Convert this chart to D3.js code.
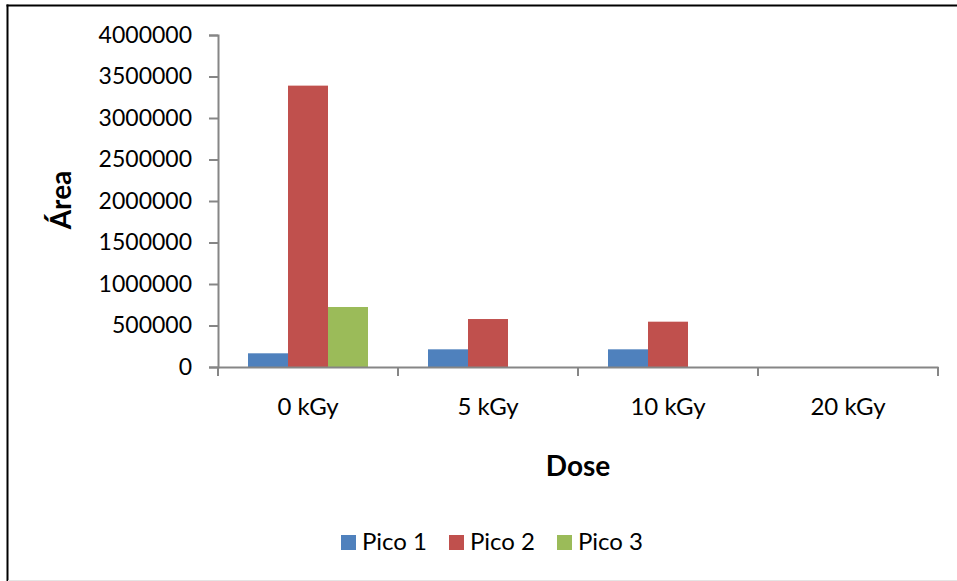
<!DOCTYPE html>
<meta charset="utf-8">
<style>
  body { margin: 0; background: #fff; overflow: hidden; }
  svg { display: block; }
  text { font-family: Lato, "Open Sans", sans-serif; fill: #000; }
  .axis path, .axis line { stroke: #868686; stroke-width: 2; }
</style>
<svg width="957" height="581"></svg>
<script src="https://d3js.org/d3.v7.min.js"></script>
<script>
// data
var doses = ["0 kGy", "5 kGy", "10 kGy", "20 kGy"];
var seriesNames = ["Pico 1", "Pico 2", "Pico 3"];
var pico1 = [165000, 213000, 213000, 0];
var pico2 = [3390000, 578000, 546000, 0];
var pico3 = [723000, 0, 0, 0];
var yTicks = [0, 500000, 1000000, 1500000, 2000000, 2500000, 3000000, 3500000, 4000000];
var colors = ["#4F81BD", "#C0504D", "#9BBB59"];

var values = [pico1, pico2, pico3];

var svg = d3.select("svg");

svg.append("rect")
    .attr("width", "100%")
    .attr("height", "100%")
    .attr("fill", "#fff");

// outer frame (only left and top edges visible)
svg.append("line")
    .attr("x1", 7.5).attr("x2", 7.5).attr("y1", 4.5).attr("y2", 581)
    .attr("stroke", "#000").attr("stroke-width", 2);
svg.append("line")
    .attr("x1", 6.5).attr("x2", 957).attr("y1", 5.5).attr("y2", 5.5)
    .attr("stroke", "#000").attr("stroke-width", 2);
svg.append("line")
    .attr("x1", 8).attr("x2", 957).attr("y1", 580.5).attr("y2", 580.5)
    .attr("stroke", "#e4e4e4");

var plotLeft = 218, plotRight = 938, plotTop = 35, plotBottom = 367;

var x = d3.scaleBand().domain(doses).range([plotLeft, plotRight]).paddingInner(0).paddingOuter(0);
var xs = d3.scaleBand().domain(seriesNames).range([0, x.bandwidth()]).paddingInner(0).paddingOuter(0.75);
var y = d3.scaleLinear().domain([0, 4000000]).range([plotBottom, plotTop]);

// bars
var groups = svg.append("g").selectAll("g")
    .data(doses)
    .enter()
    .append("g")
    .attr("transform", function(d) { return "translate(" + x(d) + ",0)"; });

groups.selectAll("rect")
    .data(function(d, i) { return values.map(function(v, s) { return {s: s, v: v[i]}; }); })
    .enter()
    .append("rect")
    .attr("x", function(d) { return xs(seriesNames[d.s]); })
    .attr("width", xs.bandwidth())
    .attr("y", function(d) { return y(d.v); })
    .attr("height", function(d) { return plotBottom - y(d.v); })
    .attr("fill", function(d) { return colors[d.s]; });

// y axis
var yAxis = svg.append("g")
    .attr("class", "axis")
    .attr("transform", "translate(" + plotLeft + ",0)")
    .call(d3.axisLeft(y).tickValues(yTicks).tickFormat(d3.format("d")).tickSize(9).tickSizeOuter(9).tickPadding(17));
yAxis.selectAll("text").style("font-size", "23px").attr("fill", "#000");

// x axis
var xAxis = svg.append("g")
    .attr("class", "axis")
    .attr("transform", "translate(0," + plotBottom + ")")
    .call(d3.axisBottom(x).tickSize(0).tickSizeOuter(0).tickPadding(31));
xAxis.selectAll("text").style("font-size", "24px").attr("fill", "#000");
xAxis.selectAll(".boundary")
    .data(d3.range(doses.length + 1))
    .enter()
    .append("line")
    .attr("class", "boundary")
    .attr("x1", function(i) { return plotLeft + i * x.bandwidth(); })
    .attr("x2", function(i) { return plotLeft + i * x.bandwidth(); })
    .attr("y1", 0).attr("y2", 9);

// axis titles
svg.append("text")
    .attr("transform", "translate(71,200) rotate(-90)")
    .attr("text-anchor", "middle")
    .style("font-size", "28px")
    .style("font-weight", "bold")
    .text("Área");

svg.append("text")
    .attr("x", 578).attr("y", 476)
    .attr("text-anchor", "middle")
    .style("font-size", "28px")
    .style("font-weight", "bold")
    .text("Dose");

// legend
var legendX = [341, 449, 557];
var legend = svg.selectAll(".legend")
    .data(seriesNames)
    .enter()
    .append("g")
    .attr("class", "legend")
    .attr("transform", function(d, i) { return "translate(" + legendX[i] + ",535)"; });

legend.append("rect")
    .attr("width", 15).attr("height", 15)
    .attr("fill", function(d, i) { return colors[i]; });

legend.append("text")
    .attr("x", 21).attr("y", 15)
    .style("font-size", "24px")
    .text(function(d) { return d; });
</script>
